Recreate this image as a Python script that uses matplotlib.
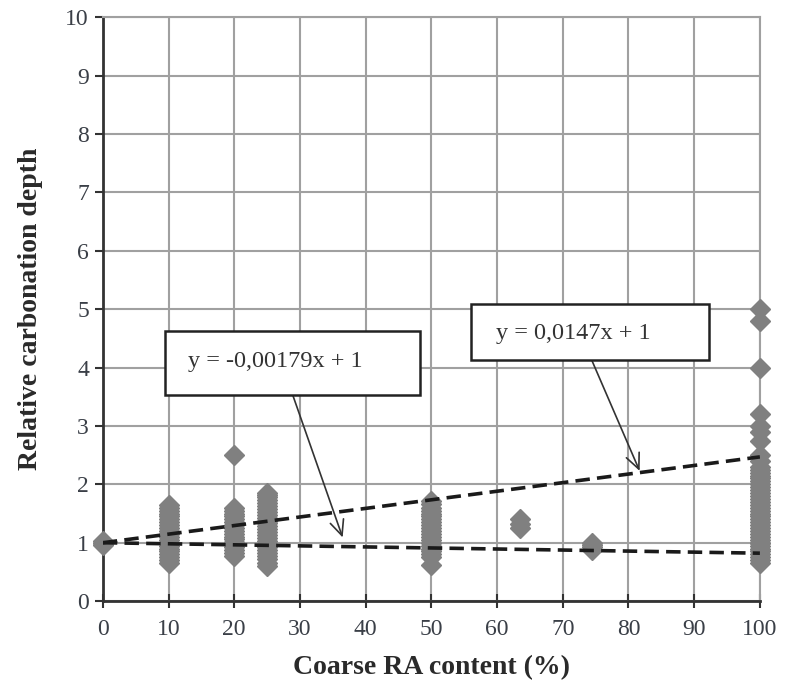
import matplotlib.pyplot as plt
from matplotlib.patches import Rectangle

# relative carbonation depth vs coarse RA content, one list per replacement level
x0 = [0, 0, 0, 0]
y0 = [0.96, 1.0, 1.0, 1.03]
x10 = [10] * 21
y10 = [0.65, 0.7, 0.75, 0.8, 0.85, 0.9, 0.95, 1.0, 1.05, 1.1, 1.15, 1.2,
       1.25, 1.3, 1.35, 1.4, 1.45, 1.5, 1.55, 1.6, 1.65]
x20 = [20] * 19
y20 = [0.78, 0.82, 0.88, 0.93, 0.98, 1.02, 1.06, 1.1, 1.15, 1.2, 1.25,
       1.3, 1.35, 1.4, 1.45, 1.5, 1.55, 1.6, 2.5]
x25 = [25] * 26
y25 = [0.61, 0.66, 0.72, 0.78, 0.83, 0.88, 0.93, 0.98, 1.03, 1.08, 1.13,
       1.18, 1.23, 1.28, 1.33, 1.38, 1.43, 1.48, 1.53, 1.58, 1.63, 1.68,
       1.73, 1.78, 1.82, 1.86]
x50 = [50] * 21
y50 = [0.62, 0.76, 0.8, 0.85, 0.9, 0.95, 1.0, 1.05, 1.1, 1.15, 1.2, 1.25,
       1.3, 1.35, 1.4, 1.45, 1.5, 1.55, 1.6, 1.66, 1.72]
x64 = [63.5] * 3
y64 = [1.25, 1.32, 1.4]
x74 = [74.5] * 4
y74 = [0.88, 0.92, 0.96, 1.0]
x100 = [100] * 44
y100 = [0.65, 0.7, 0.75, 0.8, 0.85, 0.9, 0.95, 1.0, 1.05, 1.1, 1.15, 1.2,
        1.25, 1.3, 1.35, 1.4, 1.45, 1.5, 1.55, 1.6, 1.65, 1.7, 1.75, 1.8,
        1.85, 1.9, 1.95, 2.0, 2.05, 2.1, 2.15, 2.2, 2.25, 2.3, 2.4, 2.5,
        2.74, 2.9, 3.0, 3.2, 4.0, 4.8, 5.0, 1.0]

fit_x = [0, 100]
slope_up = 0.0147
slope_down = -0.00179
eq_up = "y = 0,0147x + 1"
eq_down = "y = -0,00179x + 1"

x_ticks = list(range(0, 101, 10))
y_ticks = list(range(0, 11))

plt.rcParams["font.family"] = ["Liberation Serif", "DejaVu Serif"]

fig = plt.figure(figsize=(7.85, 6.87), dpi=100)
ax = fig.add_axes([0.131, 0.125, 0.837, 0.85])

grey = "#808080"
for xs, ys in [(x0, y0), (x10, y10), (x20, y20), (x25, y25), (x50, y50),
               (x64, y64), (x74, y74), (x100, y100)]:
    ax.plot(xs, ys, "D", color=grey, ms=10.5, mec=grey, zorder=3, clip_on=False)

ax.plot(fit_x, [1 + slope_up * v for v in fit_x], "--", color="#1a1a1a",
        lw=2.6, dashes=(4, 2), zorder=4)
ax.plot(fit_x, [1 + slope_down * v for v in fit_x], "--", color="#1a1a1a",
        lw=2.6, dashes=(4, 2), zorder=4)

# equation boxes
ax.add_patch(Rectangle((9.4, 3.53), 38.9, 1.09, fc="white", ec="#222222",
                       lw=1.8, zorder=5))
ax.text(13.0, 4.1, eq_down, fontsize=17.5, va="center", ha="left",
        color="#333333", zorder=6)
ax.add_patch(Rectangle((56.0, 4.13), 36.2, 0.96, fc="white", ec="#222222",
                       lw=1.8, zorder=5))
ax.text(59.8, 4.58, eq_up, fontsize=17.5, va="center", ha="left",
        color="#333333", zorder=6)

arrow = dict(arrowstyle="->,head_length=1.1,head_width=0.5", lw=1.2,
             color="#333333", shrinkA=0, shrinkB=0)
ax.annotate("", xy=(36.5, 1.09), xytext=(28.9, 3.53), arrowprops=arrow,
            zorder=4)
ax.annotate("", xy=(81.7, 2.23), xytext=(74.4, 4.13), arrowprops=arrow,
            zorder=4)

ax.set_xlim(0, 100)
ax.set_ylim(0, 10)
ax.set_xticks(x_ticks)
ax.set_yticks(y_ticks)
ax.grid(True, color="#a0a0a0", lw=1.5)
ax.set_axisbelow(True)
for s in ["top", "right"]:
    ax.spines[s].set_color("#a0a0a0")
    ax.spines[s].set_linewidth(1.5)
for s in ["left", "bottom"]:
    ax.spines[s].set_color("#333333")
    ax.spines[s].set_linewidth(2)

ax.tick_params(axis="y", direction="out", length=6, width=1.5,
               color="#333333", labelsize=17, labelcolor="#3a3f47", pad=4)
ax.tick_params(axis="x", direction="inout", length=10, width=1.5,
               color="#333333", labelsize=17, labelcolor="#3a3f47", pad=8)

ax.set_xlabel("Coarse RA content (%)", fontsize=20, fontweight="bold",
              color="#2a2a2a", labelpad=11)
ax.set_ylabel("Relative carbonation depth", fontsize=20, fontweight="bold",
              color="#2a2a2a", labelpad=16)

fig.savefig("out.png", dpi=100)
